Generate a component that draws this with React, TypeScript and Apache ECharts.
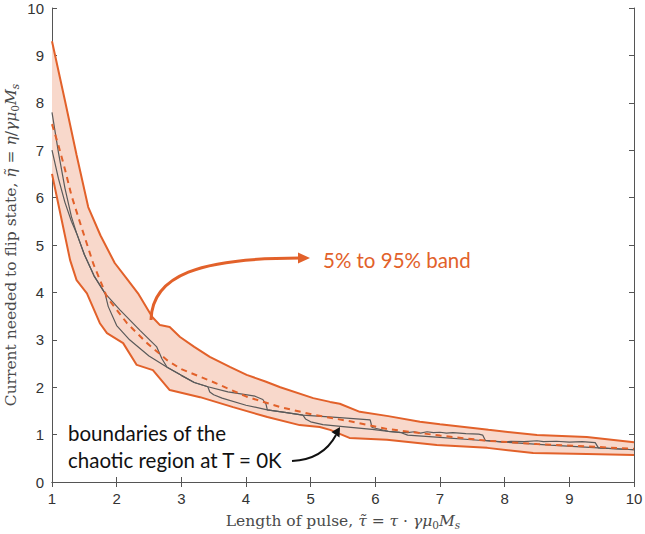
import React, { useEffect, useRef } from "react";
import * as echarts from "echarts";

// 5th and 95th percentile envelope of the switching current
const bandUpper: [number, number][] = [
  [1, 9.3], [1.2, 8.05], [1.38, 6.9], [1.56, 5.8], [1.75, 5.2], [1.97, 4.62],
  [2.15, 4.3], [2.33, 3.98], [2.55, 3.48], [2.67, 3.31], [2.82, 3.27], [2.98, 3.06],
  [3.2, 2.85], [3.44, 2.64], [3.75, 2.43], [4.01, 2.26], [4.3, 2.12], [4.53, 2.0],
  [5.04, 1.77], [5.3, 1.69], [5.45, 1.65], [5.76, 1.48], [6.2, 1.39], [6.69, 1.27],
  [7.0, 1.22], [7.75, 1.1], [8.5, 0.99], [9.27, 0.95], [10, 0.84],
];
const bandLower: [number, number][] = [
  [1, 6.5], [1.1, 5.85], [1.2, 5.2], [1.28, 4.68], [1.38, 4.26], [1.54, 3.98],
  [1.74, 3.35], [1.85, 3.14], [2.1, 2.93], [2.31, 2.47], [2.56, 2.36], [2.82, 1.94],
  [3.29, 1.79], [3.8, 1.58], [4.33, 1.37], [4.83, 1.2], [5.14, 1.16], [5.3, 1.1],
  [5.6, 0.93], [6.18, 0.89], [6.95, 0.78], [7.73, 0.72], [8.44, 0.61], [9.27, 0.59],
  [10, 0.57],
];
// median switching current
const median: [number, number][] = [
  [1, 7.55], [1.1, 7.1], [1.2, 6.6], [1.3, 6.05], [1.45, 5.4], [1.64, 4.6],
  [1.85, 3.9], [2.16, 3.35], [2.47, 2.93], [2.78, 2.57], [3.0, 2.38], [3.49, 2.11],
  [4.01, 1.8], [4.53, 1.58], [5.04, 1.42], [5.61, 1.28], [6.18, 1.12], [7.0, 0.98],
  [7.73, 0.87], [8.5, 0.8], [9.27, 0.75], [10, 0.7],
];
// boundaries of the chaotic region at T = 0K
const chaosLower: [number, number][] = [
  [1, 7.0], [1.1, 6.4], [1.2, 5.9], [1.3, 5.5], [1.38, 5.25], [1.5, 4.8],
  [1.65, 4.35], [1.82, 3.98], [1.87, 3.7], [2.0, 3.3], [2.2, 3.0], [2.5, 2.66],
  [2.78, 2.42], [3.0, 2.25], [3.2, 2.1], [3.41, 2.01], [3.44, 1.9], [3.5, 1.84],
  [3.63, 1.77], [4.0, 1.62], [4.33, 1.52], [4.6, 1.47], [4.88, 1.41], [4.92, 1.33],
  [5.0, 1.27], [5.19, 1.21], [5.5, 1.17], [5.95, 1.11], [6.2, 1.07], [6.4, 1.04],
  [6.5, 0.99], [7.0, 0.94], [7.7, 0.87], [8.0, 0.84], [8.7, 0.78], [9.45, 0.72],
  [10, 0.68],
];
const chaosUpper: [number, number][] = [
  [1, 7.8], [1.1, 6.95], [1.2, 6.2], [1.3, 5.6], [1.38, 5.25], [1.5, 4.8],
  [1.65, 4.35], [1.82, 3.98], [2.05, 3.63], [2.36, 3.2], [2.62, 2.85], [2.7, 2.6],
  [2.78, 2.42], [3.0, 2.25], [3.2, 2.1], [3.41, 2.01], [3.72, 1.9], [4.14, 1.81],
  [4.26, 1.74], [4.31, 1.64], [4.33, 1.52], [4.6, 1.47], [4.88, 1.41], [5.45, 1.36],
  [5.92, 1.31], [5.95, 1.15], [6.2, 1.07], [6.38, 1.05], [6.5, 1.04], [6.6, 1.06],
  [6.7, 1.03], [6.8, 1.06], [6.9, 1.04], [7.0, 1.05], [7.1, 1.03], [7.2, 1.04],
  [7.4, 1.02], [7.6, 1.01], [7.66, 0.99], [7.7, 0.88], [8.0, 0.84], [8.1, 0.86],
  [8.3, 0.85], [8.5, 0.87], [8.6, 0.85], [8.8, 0.86], [9.0, 0.84], [9.2, 0.85],
  [9.4, 0.83], [9.45, 0.72], [10, 0.68],
];

const ORANGE = "#E2612A";
const BAND_FILL = "#F8D8CB";
const GRAY = "#5a5a5a";
const AXIS = "#555555";
const SERIF = "'DejaVu Serif', 'Liberation Serif', serif";
const SANS = "'Liberation Sans', Arial, sans-serif";
const NOTE = "Lato, 'Open Sans', sans-serif";
const TITLE_COLOR = "#4a4a4a";

// rich styles for the LaTeX-like axis titles (roman, italic, subscripts)
const nameRich = {
  r: { fontFamily: SERIF, fontSize: 15.5, color: TITLE_COLOR, lineHeight: 18 },
  i: { fontFamily: SERIF, fontSize: 15.5, fontStyle: "italic", color: TITLE_COLOR, lineHeight: 18 },
  s: { fontFamily: SERIF, fontSize: 10.5, color: TITLE_COLOR, lineHeight: 10, verticalAlign: "bottom" },
  si: {
    fontFamily: SERIF,
    fontSize: 10.5,
    fontStyle: "italic",
    color: TITLE_COLOR,
    lineHeight: 10,
    verticalAlign: "bottom",
  },
};

export default function App() {
  const ref = useRef<HTMLDivElement>(null);

  useEffect(() => {
    document.body.style.margin = "0";
    if (!ref.current) return;
    const chart = echarts.init(ref.current, undefined, { renderer: "svg" });

    const axisCommon = {
      type: "value" as const,
      min: 1,
      max: 10,
      interval: 1,
      splitLine: { show: false },
      axisLine: { show: true, lineStyle: { color: AXIS, width: 1 } },
      axisTick: { show: true, inside: true, length: 5, lineStyle: { color: AXIS } },
    };

    chart.setOption({
      animation: false,
      grid: {
        left: 52,
        right: 11,
        top: 8,
        bottom: 52,
        containLabel: false,
        outerBoundsMode: "none",
      },
      xAxis: [
        {
          ...axisCommon,
          position: "bottom",
          axisLabel: { fontFamily: SANS, fontSize: 15, color: "#333", margin: 9 },
          name: "{r|Length of pulse, }{i|τ\u0303}{r| = }{i|τ}{r| · }{i|γμ}{s|0}{i|M}{si|s}",
          nameLocation: "middle",
          nameGap: 30,
          nameTextStyle: { rich: nameRich },
        },
        { ...axisCommon, position: "top", axisLabel: { show: false } },
      ],
      yAxis: [
        {
          ...axisCommon,
          min: 0,
          position: "left",
          axisLabel: { fontFamily: SANS, fontSize: 15, color: "#333", margin: 8 },
          name: "{r|Current needed to flip state, }{i|η\u0303}{r| = }{i|η}{r|/}{i|γμ}{s|0}{i|M}{si|s}",
          nameLocation: "middle",
          nameGap: 32,
          nameMoveOverlap: false,
          nameTextStyle: { rich: nameRich },
        },
        { ...axisCommon, min: 0, position: "right", axisLabel: { show: false } },
      ],
      series: [
        {
          type: "custom",
          coordinateSystem: "cartesian2d",
          data: [[1, 0]],
          silent: true,
          z: 1,
          renderItem: (_params: any, api: any) => {
            const pts = bandUpper
              .map((p) => api.coord(p))
              .concat(bandLower.slice().reverse().map((p) => api.coord(p)));
            return {
              type: "polygon",
              shape: { points: pts },
              style: { fill: BAND_FILL, stroke: "none" },
            };
          },
        },
        {
          type: "line",
          data: bandUpper,
          showSymbol: false,
          z: 3,
          lineStyle: { color: ORANGE, width: 2 },
        },
        {
          type: "line",
          data: bandLower,
          showSymbol: false,
          z: 3,
          lineStyle: { color: ORANGE, width: 2 },
        },
        {
          type: "line",
          data: chaosLower,
          showSymbol: false,
          z: 4,
          lineStyle: { color: GRAY, width: 1.2 },
        },
        {
          type: "line",
          data: chaosUpper,
          showSymbol: false,
          z: 4,
          lineStyle: { color: GRAY, width: 1.2 },
        },
        {
          type: "line",
          data: median,
          showSymbol: false,
          z: 5,
          lineStyle: { color: ORANGE, width: 2, type: [6, 5] },
        },
      ],
      graphic: [
        {
          type: "bezierCurve",
          shape: { x1: 151, y1: 320, cpx1: 152, cpy1: 275, cpx2: 200, cpy2: 258, x2: 300, y2: 258 },
          style: { stroke: ORANGE, lineWidth: 3, fill: "none" },
          z: 10,
        },
        {
          type: "polygon",
          shape: { points: [[310, 258], [298, 252.5], [298, 263.5]] },
          style: { fill: ORANGE },
          z: 10,
        },
        {
          type: "text",
          x: 323,
          y: 260,
          style: {
            text: "5% to 95% band",
            fontFamily: NOTE,
            fontSize: 20.5,
            fill: ORANGE,
            textVerticalAlign: "middle",
          },
          z: 10,
        },
        {
          type: "text",
          x: 68,
          y: 433,
          style: {
            text: "boundaries of the",
            fontFamily: NOTE,
            fontSize: 20.5,
            fill: "#111",
            textVerticalAlign: "middle",
          },
          z: 10,
        },
        {
          type: "text",
          x: 68,
          y: 460,
          style: {
            text: "chaotic region at T = 0K",
            fontFamily: NOTE,
            fontSize: 20.5,
            fill: "#111",
            textVerticalAlign: "middle",
          },
          z: 10,
        },
        {
          type: "bezierCurve",
          shape: { x1: 292, y1: 461, cpx1: 313, cpy1: 460, cpx2: 328, cpy2: 450, x2: 336, y2: 435 },
          style: { stroke: "#111", lineWidth: 2, fill: "none" },
          z: 10,
        },
        {
          type: "polygon",
          shape: { points: [[340, 427], [339.5, 437.5], [331.5, 432]] },
          style: { fill: "#111" },
          z: 10,
        },
      ],
    });

    return () => chart.dispose();
  }, []);

  return <div ref={ref} style={{ width: 645, height: 534 }} />;
}
